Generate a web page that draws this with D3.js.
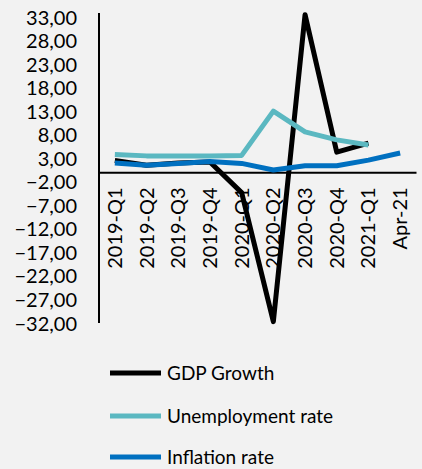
<!DOCTYPE html>
<html>
<head>
<meta charset="utf-8">
<script src="https://cdn.jsdelivr.net/npm/d3@7"></script>
<style>
  html, body { margin: 0; padding: 0; background: #f2f2f2; }
  svg { display: block; }
</style>
</head>
<body>
<div id="chart"></div>
<script>
// Quarterly indicators (%)
const categories = ["2019-Q1","2019-Q2","2019-Q3","2019-Q4","2020-Q1","2020-Q2","2020-Q3","2020-Q4","2021-Q1","Apr-21"];
const gdpGrowth   = [2.5, 1.5, 2.0, 2.2, -4.3, -31.7, 33.5, 4.3, 6.2, null];
const unemployment = [3.8, 3.5, 3.5, 3.5, 3.6, 13.0, 8.6, 6.9, 5.8, null];
const inflation   = [2.0, 1.5, 1.9, 2.3, 1.9, 0.5, 1.4, 1.4, 2.6, 4.1];
const yTicks = [33, 28, 23, 18, 13, 8, 3, -2, -7, -12, -17, -22, -27, -32];

const seriesList = [
  { name: "GDP Growth", values: gdpGrowth, color: "#000000" },
  { name: "Unemployment rate", values: unemployment, color: "#5bb8c1" },
  { name: "Inflation rate", values: inflation, color: "#0070c0" }
];

const W = 422, H = 469;
const FONT = "Lato, 'Noto Sans', sans-serif";

const svg = d3.select("#chart").append("svg")
  .attr("width", W).attr("height", H);

svg.append("rect").attr("width", W).attr("height", H).attr("fill", "#f2f2f2");

const y = d3.scaleLinear().domain([-32, 33]).range([323, 17]);
const x = d3.scaleBand().domain(categories).range([99, 416]);

const fmt = v => d3.format(".2f")(v).replace(".", ",").replace("-", "-");

// Y axis: labels only, plus the vertical line
const yAxis = d3.axisLeft(y).tickValues(yTicks).tickSize(0).tickPadding(0).tickFormat(fmt);
const gy = svg.append("g").attr("transform", "translate(77,0)").call(yAxis);
gy.select(".domain").remove();
gy.selectAll("text")
  .attr("font-family", FONT).attr("font-size", 20).attr("fill", "#000")
  .attr("dy", "0.35em");

svg.append("line")
  .attr("x1", 99).attr("x2", 99)
  .attr("y1", y(33) - 4).attr("y2", y(-32))
  .attr("stroke", "#000").attr("stroke-width", 2);

// X axis along zero, labels rotated
const xAxis = d3.axisBottom(x).tickSize(0).tickPadding(0);
const gx = svg.append("g").attr("transform", `translate(0,${y(0)})`).call(xAxis);
gx.select(".domain").attr("stroke", "#000").attr("stroke-width", 2);
gx.selectAll("text")
  .attr("font-family", FONT).attr("font-size", 20).attr("fill", "#000")
  .attr("text-anchor", "end")
  .attr("transform", "translate(0,15) rotate(-90)")
  .attr("x", 0).attr("y", 0).attr("dy", "0.35em");

// Lines
const line = d3.line()
  .defined(d => d.v !== null)
  .x(d => x(d.c) + x.bandwidth() / 2)
  .y(d => y(d.v));

seriesList.forEach(s => {
  svg.append("path")
    .datum(categories.map((c, i) => ({ c, v: s.values[i] })))
    .attr("fill", "none")
    .attr("stroke", s.color)
    .attr("stroke-width", 5)
    .attr("stroke-linejoin", "round")
    .attr("d", line);
});

// Legend
const legendY = [373, 416, 457];
seriesList.forEach((s, i) => {
  const g = svg.append("g").attr("transform", `translate(0,${legendY[i]})`);
  g.append("line").attr("x1", 110).attr("x2", 161)
    .attr("stroke", s.color).attr("stroke-width", 5);
  g.append("text").attr("x", 167).attr("y", 0).attr("dy", "0.35em")
    .attr("font-family", FONT).attr("font-size", 19).attr("fill", "#000")
    .text(s.name);
});
</script>
</body>
</html>
